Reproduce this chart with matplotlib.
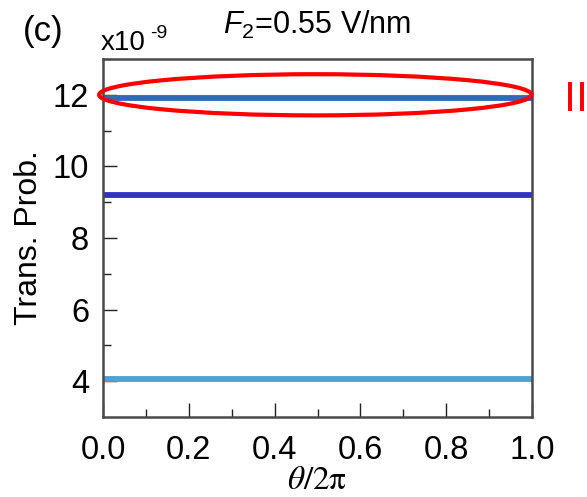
import matplotlib
matplotlib.use("Agg")
import matplotlib.pyplot as plt
from matplotlib.patches import Ellipse
import numpy as np

plt.rcParams['font.family'] = ['Liberation Sans', 'DejaVu Sans']
plt.rcParams['mathtext.fontset'] = 'custom'
plt.rcParams['mathtext.rm'] = 'Liberation Sans'
plt.rcParams['mathtext.it'] = 'Liberation Sans:italic'

# theta/2pi sampling and transition probabilities (units of 1e-9)
theta = [0.0, 0.25, 0.5, 0.75, 1.0]
prob_upper = [11.92, 11.92, 11.92, 11.92, 11.92]
prob_middle = [9.21, 9.21, 9.21, 9.21, 9.21]
prob_lower = [4.05, 4.05, 4.05, 4.05, 4.05]
line_colors = ['#2f6ab3', '#3232c8', '#4ca3cc']

x_ticks = [0.0, 0.2, 0.4, 0.6, 0.8, 1.0]
y_ticks = [4, 6, 8, 10, 12]

# highlight around the upper branch
ring_center = (0.495, 12.0)
ring_width = 1.008
ring_height = 1.15

fig = plt.figure(figsize=(5.87, 4.97), dpi=100)
ax = fig.add_axes([0.1755, 0.161, 0.7308, 0.7203])

for ys, c in zip([prob_upper, prob_middle, prob_lower], line_colors):
    ax.plot(theta, ys, color=c, lw=4.2, solid_capstyle='butt')

ax.set_xlim(0, 1)
ax.set_ylim(3, 13)
ax.set_xticks(x_ticks)
ax.set_xticklabels([f"{v:.1f}" for v in x_ticks])
ax.set_xticks(np.arange(0.1, 1.0, 0.2), minor=True)
ax.set_yticks(y_ticks)
ax.set_yticks([5, 7, 9, 11, 13], minor=True)

ax.tick_params(which='both', direction='in', labelsize=23.5, width=1.0,
               color='#222222', top=False, right=False)
ax.tick_params(which='major', length=10)
ax.tick_params(axis='x', which='major', pad=13)
ax.tick_params(axis='y', which='major', pad=10)
ax.tick_params(which='minor', length=5.5)
for s in ax.spines.values():
    s.set_color('#4a4a4a')
    s.set_linewidth(1.8)

ax.set_ylabel('Trans. Prob.', fontsize=23, labelpad=6)
ax.set_xlabel(r'$\theta/2\mathrm{\pi}$', fontsize=24, math_fontfamily='stix',
              labelpad=-1)

ell = Ellipse(ring_center, ring_width, ring_height, fill=False,
              edgecolor='#ff0000', lw=3.0, clip_on=False, zorder=5)
ax.add_patch(ell)

ax.text(1.1026, 11.55, 'II', color='#ff0000', fontsize=31, ha='center',
        va='baseline', clip_on=False)

fig.text(0.172, 0.9, 'x10', fontsize=20, ha='left', va='baseline')
fig.text(0.256, 0.924, '-9', fontsize=14, ha='left', va='baseline')
fig.text(0.039, 0.918, '(c)', fontsize=25, ha='left', va='baseline')
fig.text(0.54, 0.932, r'$F_2$=0.55 V/nm', fontsize=22, ha='center', va='baseline')

fig.savefig('out.png', dpi=100)
